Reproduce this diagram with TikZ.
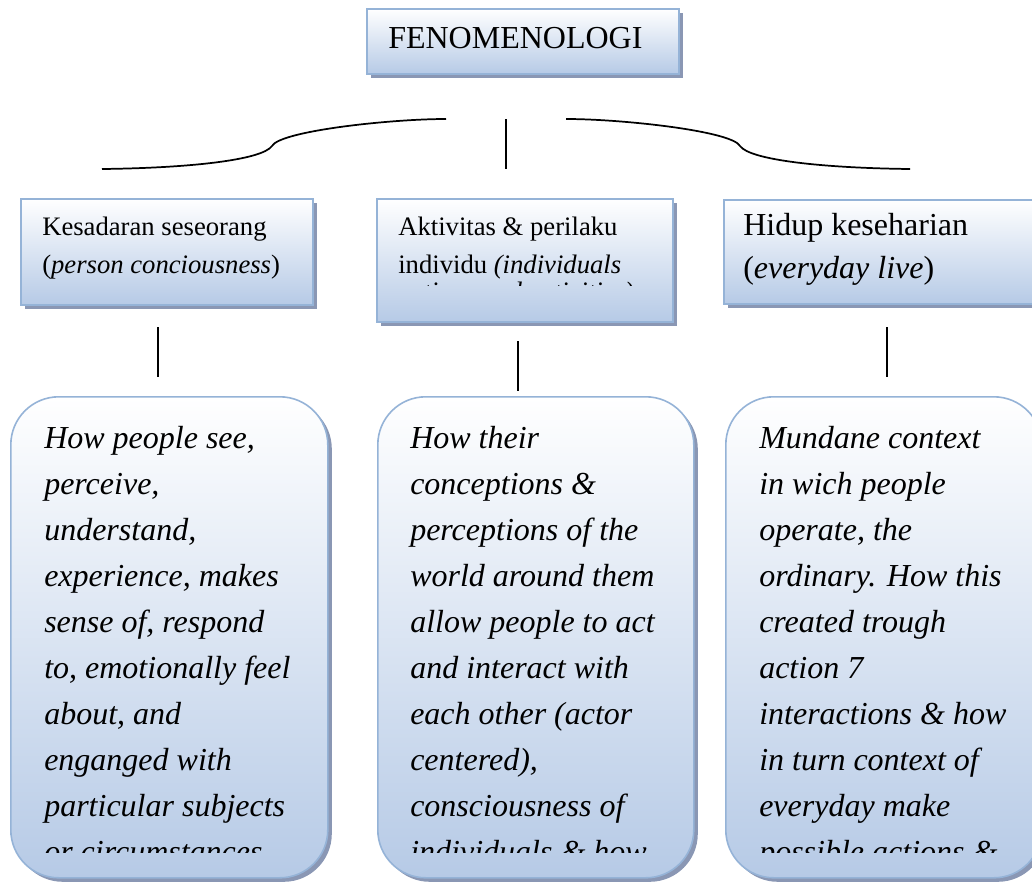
\documentclass[tikz,border=0pt]{standalone}
\usepackage{fontspec}
\setmainfont{Liberation Serif}
\usepackage{tikz}
\usetikzlibrary{shadows}
\definecolor{boxline}{RGB}{149,179,215}
\definecolor{boxfill}{RGB}{182,202,230}
\definecolor{boxshade}{RGB}{138,151,180}
\tikzstyle{shadowed} = [draw=boxline,line width=1.2pt,top color=white,bottom color=boxfill,drop shadow={shadow xshift=3pt,shadow yshift=-3pt,fill=boxshade,opacity=1}]
\tikzstyle{headbox} = [shadowed,anchor=north west,inner sep=0pt]
\tikzstyle{roundbox} = [headbox,rounded corners=36pt]
\tikzstyle{link} = [line width=1.3pt]
\tikzstyle{headtext} = [anchor=base west,align=left,inner sep=0pt,font=\fontsize{20}{28.5}\selectfont]
\tikzstyle{bodytext} = [anchor=base west,align=left,inner sep=0pt,font=\fontsize{24}{34.5}\selectfont\itshape]

\begin{document}
\begin{tikzpicture}[x=0.75pt,y=-0.75pt]
            \clip (0,0) rectangle (1032,882);
            \node[headbox,minimum width=234pt,minimum height=48.75pt] (fen) at (366,8) {};
            \node[anchor=base west,inner sep=0pt,font=\fontsize{24}{28}\selectfont] (fentext) at (388,48) {FENOMENOLOGI};
            \coordinate (braceL) at (102,169);
            \coordinate (braceLm) at (272,146);
            \coordinate (braceLe) at (446,119);
            \coordinate (braceMt) at (506,119);
            \coordinate (braceMb) at (506,169);
            \coordinate (braceRs) at (566,119);
            \coordinate (braceRm) at (740,146);
            \coordinate (braceR) at (910,169);
            \draw[link] (braceL) .. controls (190,168) and (262,160) .. (braceLm) .. controls (280,131) and (390,119) .. (braceLe);
            \draw[link] (braceMt) -- (braceMb);
            \draw[link] (braceRs) .. controls (622,119) and (732,131) .. (braceRm) .. controls (750,160) and (822,168) .. (braceR);
            \node[headbox,minimum width=219pt,minimum height=79.5pt] (kes) at (20,198) {};
            \node[headbox,minimum width=222pt,minimum height=92.25pt] (akt) at (376,198) {};
            \node[headbox,minimum width=234pt,minimum height=78pt] (hid) at (723,199) {};
            \node[headtext] (kestext) at (42,273) {Kesadaran seseorang\\(\textit{person conciousness})};
            \node[headtext] (akttext) at (398,273) {Aktivitas \& perilaku\\individu \textit{(individuals}};
            \node[headtext,font=\fontsize{24}{32.25}\selectfont] (hidtext) at (743,278) {Hidup keseharian\\(\textit{everyday live})};
            \begin{scope}
                \clip (380,200) rectangle (668,285);
                \node[headtext] (aktmore) at (398,300) {\textit{actions and activities)}};
            \end{scope}
            \coordinate (kesout) at (158,327);
            \coordinate (kesin) at (158,377);
            \coordinate (aktout) at (518,341);
            \coordinate (aktin) at (518,391);
            \coordinate (hidout) at (887,327);
            \coordinate (hidin) at (887,377);
            \draw[link] (kesout) -- (kesin);
            \draw[link] (aktout) -- (aktin);
            \draw[link] (hidout) -- (hidin);
            \node[roundbox,minimum width=237.75pt,minimum height=360.75pt] (see) at (10,396) {};
            \node[roundbox,minimum width=237pt,minimum height=360.75pt] (act) at (377,396) {};
            \node[roundbox,minimum width=237pt,minimum height=360.75pt] (ctx) at (725,396) {};
            \begin{scope}
                \clip (0,400) rectangle (1032,852);
                \node[bodytext] (seetext) at (44,862) {How people see,\\perceive,\\understand,\\experience, makes\\sense of, respond\\to, emotionally feel\\about, and\\enganged with\\particular subjects\\or circumstances};
                \node[bodytext] (acttext) at (410,862) {How their\\conceptions \&\\perceptions of the\\world around them\\allow people to act\\and interact with\\each other (actor\\centered),\\consciousness of\\individuals \& how};
                \node[bodytext] (ctxtext) at (759,862) {Mundane context\\in wich people\\operate, the\\ordinary. How this\\created trough\\action 7\\interactions \& how\\in turn context of\\everyday make\\possible actions \&};
            \end{scope}
        \end{tikzpicture}
\end{document}
